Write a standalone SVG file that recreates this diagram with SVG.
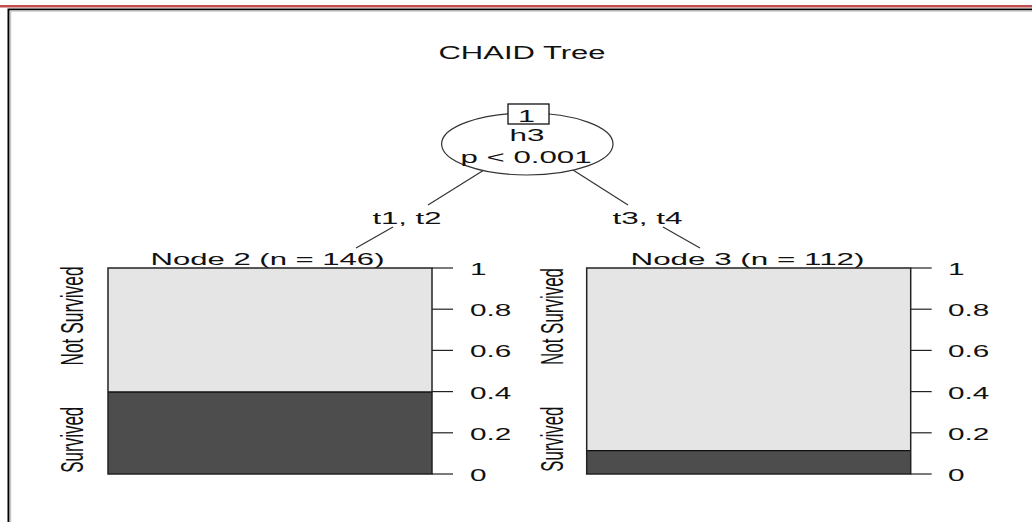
<svg xmlns="http://www.w3.org/2000/svg" width="1032" height="522" viewBox="0 0 1032 522">
<style>
text{font-family:"Liberation Sans",Arial,sans-serif;fill:#111}
.t{font-size:17px}
.tick{stroke:#222;stroke-width:1.2}
.edge{stroke:#333;stroke-width:1.2;fill:none}
.light{fill:#e5e5e5}
.dark{fill:#4d4d4d}
.frame{fill:none;stroke:#222;stroke-width:1.5}
</style>
<rect x="0" y="0" width="1032" height="522" fill="#fff"/>
<rect x="0" y="5" width="1032" height="2.5" fill="#c0504d"/>
<path d="M8.5 522 V9.5 H1032" fill="none" stroke="#000" stroke-width="2"/>
<path d="M10.5 522 V11 H1032" fill="none" stroke="#c8c8c8" stroke-width="1.5"/>
<text x="522" y="59" text-anchor="middle" style="font-size:18px" textLength="167" lengthAdjust="spacingAndGlyphs">CHAID Tree</text>
<g id="connectors">
<path class="edge" d="M484 170 L428 205"/>
<path class="edge" d="M393 227 L356 248"/>
<path class="edge" d="M573 170 L628 205"/>
<path class="edge" d="M663 227 L700 248"/>
<text class="t" x="407" y="224" text-anchor="middle" textLength="69" lengthAdjust="spacingAndGlyphs">t1, t2</text>
<text class="t" x="647.5" y="224" text-anchor="middle" textLength="70" lengthAdjust="spacingAndGlyphs">t3, t4</text>
</g>
<g id="node1">
<ellipse cx="527.3" cy="144" rx="85.7" ry="31" fill="#fff" stroke="#333" stroke-width="1.2"/>
<rect x="508" y="104" width="41" height="20" fill="#fff" stroke="#111" stroke-width="1.3"/>
<text class="t" x="526.5" y="121.5" text-anchor="middle" textLength="17" lengthAdjust="spacingAndGlyphs">1</text>
<text class="t" x="527" y="141" text-anchor="middle" textLength="35" lengthAdjust="spacingAndGlyphs">h3</text>
<text class="t" x="526" y="162.5" text-anchor="middle" textLength="131" lengthAdjust="spacingAndGlyphs">p &lt; 0.001</text>
</g>
<g id="node2">
<text style="font-size:16.5px" x="267.5" y="265" text-anchor="middle" textLength="234" lengthAdjust="spacingAndGlyphs">Node 2 (n = 146)</text>
<rect class="light" x="108" y="268" width="324" height="124"/>
<rect class="dark" x="108" y="392" width="324" height="82"/>
<line x1="108" y1="392" x2="432" y2="392" stroke="#111" stroke-width="1.3"/>
<rect class="frame" x="108" y="268" width="324" height="206"/>
<line class="tick" x1="432" y1="268" x2="453" y2="268"/>
<line class="tick" x1="432" y1="309.2" x2="453" y2="309.2"/>
<line class="tick" x1="432" y1="350.4" x2="453" y2="350.4"/>
<line class="tick" x1="432" y1="391.6" x2="453" y2="391.6"/>
<line class="tick" x1="432" y1="432.8" x2="453" y2="432.8"/>
<line class="tick" x1="432" y1="474" x2="453" y2="474"/>
<text class="t" transform="translate(470,275) scale(1.75,1)">1</text>
<text class="t" transform="translate(470,316.2) scale(1.75,1)">0.8</text>
<text class="t" transform="translate(470,357.4) scale(1.75,1)">0.6</text>
<text class="t" transform="translate(470,398.6) scale(1.75,1)">0.4</text>
<text class="t" transform="translate(470,439.8) scale(1.75,1)">0.2</text>
<text class="t" transform="translate(470,481) scale(1.75,1)">0</text>
<text class="t" transform="translate(83,316) scale(1.8,1) rotate(-90)" text-anchor="middle" textLength="99" lengthAdjust="spacingAndGlyphs">Not Survived</text>
<text class="t" transform="translate(83,439.7) scale(1.8,1) rotate(-90)" text-anchor="middle" textLength="66" lengthAdjust="spacingAndGlyphs">Survived</text>
</g>
<g id="node3">
<text style="font-size:16.5px" x="747.5" y="265" text-anchor="middle" textLength="234" lengthAdjust="spacingAndGlyphs">Node 3 (n = 112)</text>
<rect class="light" x="586.7" y="268" width="324" height="182.7"/>
<rect class="dark" x="586.7" y="450.7" width="324" height="23.3"/>
<line x1="586.7" y1="450.7" x2="910.7" y2="450.7" stroke="#111" stroke-width="1.3"/>
<rect class="frame" x="586.7" y="268" width="324" height="206"/>
<line class="tick" x1="910.7" y1="268" x2="931.7" y2="268"/>
<line class="tick" x1="910.7" y1="309.2" x2="931.7" y2="309.2"/>
<line class="tick" x1="910.7" y1="350.4" x2="931.7" y2="350.4"/>
<line class="tick" x1="910.7" y1="391.6" x2="931.7" y2="391.6"/>
<line class="tick" x1="910.7" y1="432.8" x2="931.7" y2="432.8"/>
<line class="tick" x1="910.7" y1="474" x2="931.7" y2="474"/>
<text class="t" transform="translate(948,275) scale(1.75,1)">1</text>
<text class="t" transform="translate(948,316.2) scale(1.75,1)">0.8</text>
<text class="t" transform="translate(948,357.4) scale(1.75,1)">0.6</text>
<text class="t" transform="translate(948,398.6) scale(1.75,1)">0.4</text>
<text class="t" transform="translate(948,439.8) scale(1.75,1)">0.2</text>
<text class="t" transform="translate(948,481) scale(1.75,1)">0</text>
<text class="t" transform="translate(563,316.5) scale(1.8,1) rotate(-90)" text-anchor="middle" textLength="97" lengthAdjust="spacingAndGlyphs">Not Survived</text>
<text class="t" transform="translate(563,439.2) scale(1.8,1) rotate(-90)" text-anchor="middle" textLength="65" lengthAdjust="spacingAndGlyphs">Survived</text>
</g>
</svg>
